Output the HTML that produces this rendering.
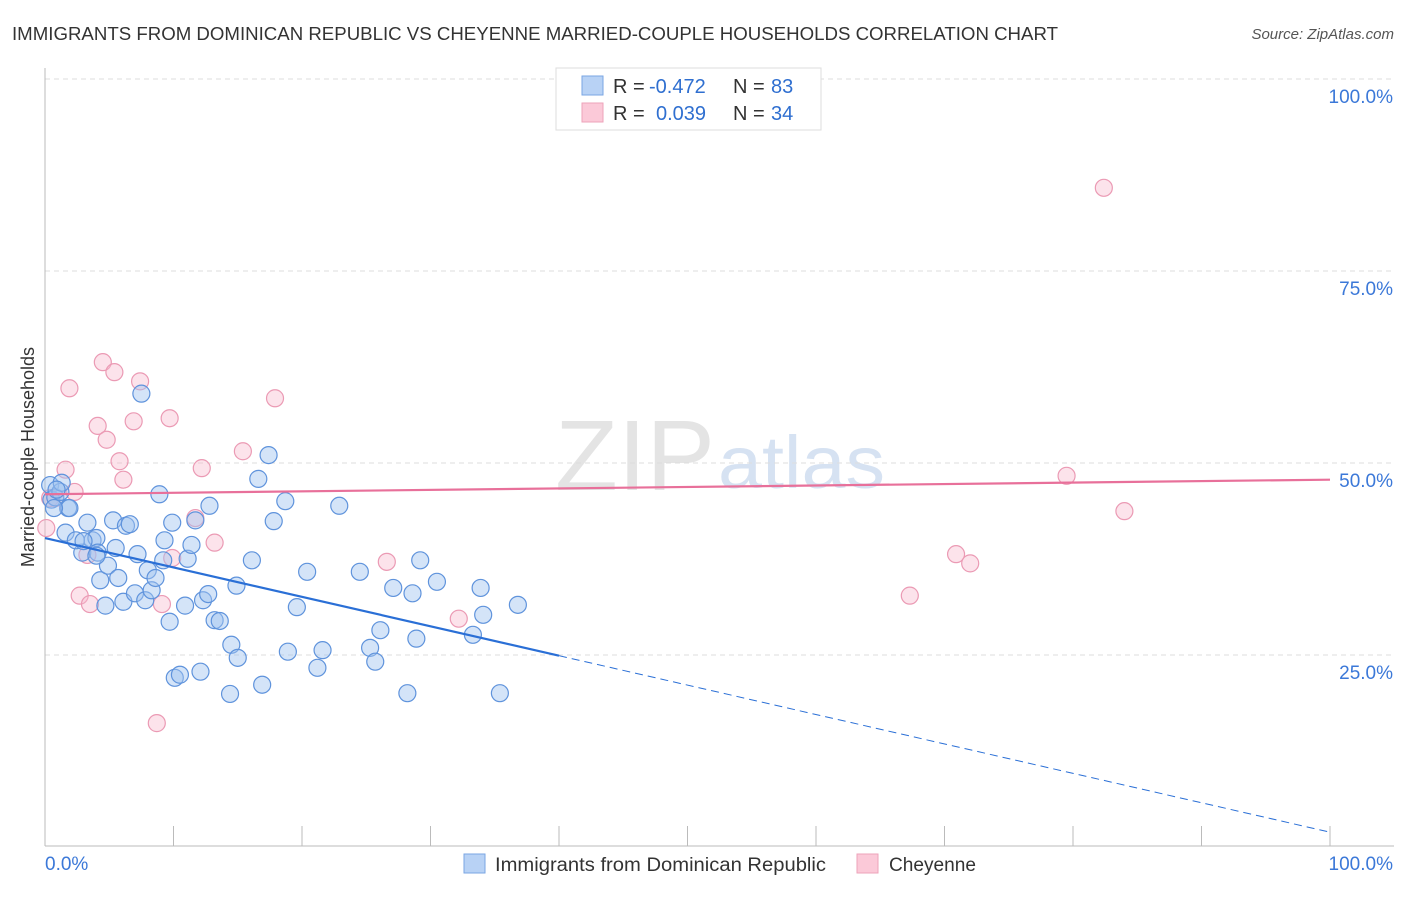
<!DOCTYPE html>
<html><head><meta charset="utf-8"><style>
body{margin:0;background:#fff;font-family:"Liberation Sans",sans-serif;}
svg text{font-family:"Liberation Sans",sans-serif;}
</style></head><body>
<svg id="chart" width="1406" height="892">
<text x="12" y="40" font-size="18" fill="#333" textLength="1046" lengthAdjust="spacingAndGlyphs">IMMIGRANTS FROM DOMINICAN REPUBLIC VS CHEYENNE MARRIED-COUPLE HOUSEHOLDS CORRELATION CHART</text>
<text x="1394" y="39" font-size="15" fill="#555" font-style="italic" text-anchor="end">Source: ZipAtlas.com</text>
<text x="555" y="490" font-size="100" fill="#e4e4e4" textLength="160" lengthAdjust="spacingAndGlyphs" font-family="Liberation Serif">ZIP</text>
<text x="718" y="488" font-size="74" fill="#d6e2f2" textLength="167" lengthAdjust="spacingAndGlyphs">atlas</text>
<g id="grid"></g><g id="pts"></g><g id="lines"></g>
<text transform="translate(34,457) rotate(-90)" font-size="18" fill="#333" text-anchor="middle">Married-couple Households</text>
<g>
<rect x="556" y="68" width="265" height="62" fill="#fff" stroke="#ddd"/>
<rect x="582" y="76" width="21" height="19" fill="#b8d2f5" stroke="#7aa6e3"/>
<rect x="582" y="103" width="21" height="19" fill="#fbc9d8" stroke="#eea3ba"/>
<text x="613" y="93" font-size="20" fill="#333">R = <tspan x="649" fill="#2f6fd0">-0.472</tspan><tspan x="733">N = </tspan><tspan x="771" fill="#2f6fd0">83</tspan></text>
<text x="613" y="120" font-size="20" fill="#333">R = <tspan x="656" fill="#2f6fd0">0.039</tspan><tspan x="733">N = </tspan><tspan x="771" fill="#2f6fd0">34</tspan></text>
</g>
<g>
<rect x="464" y="854" width="21" height="19" fill="#b8d2f5" stroke="#7aa6e3"/>
<text x="495" y="871" font-size="19" fill="#333" textLength="331" lengthAdjust="spacingAndGlyphs">Immigrants from Dominican Republic</text>
<rect x="857" y="854" width="21" height="19" fill="#fbc9d8" stroke="#eea3ba"/>
<text x="889" y="871" font-size="19" fill="#333" textLength="87" lengthAdjust="spacingAndGlyphs">Cheyenne</text>
</g>
</svg>
<script>
const blueX=[0.4,0.5,0.8,1.2,1.3,1.8,1.6,1.9,2.9,3.3,3.7,4.0,4.1,4.3,4.7,4.9,5.3,5.5,5.7,6.1,6.3,6.6,7.0,7.2,7.5,7.8,8.0,8.3,8.6,8.9,9.2,9.3,9.7,9.9,10.1,10.5,10.9,11.1,11.4,11.7,12.1,12.3,12.7,12.8,13.2,13.6,14.4,14.5,14.9,15.0,16.1,16.9,17.4,16.6,17.8,18.7,18.9,19.6,20.4,21.2,21.6,22.9,24.5,25.3,25.7,26.1,27.1,28.2,28.6,28.9,29.2,30.5,33.3,33.9,34.1,35.4,36.8,0.9,0.7,2.4,3.0,4.0];
const blueY=[47.0,45.1,45.4,46.1,47.3,44.0,40.8,44.0,38.2,42.1,39.8,40.1,38.2,34.6,31.3,36.5,42.4,38.8,34.9,31.8,41.7,41.9,32.9,38.0,58.9,32.0,35.9,33.3,34.9,45.8,37.2,39.8,29.2,42.1,21.9,22.3,31.3,37.4,39.2,42.4,22.7,32.0,32.8,44.3,29.4,29.3,19.8,26.2,33.9,24.5,37.2,21.0,50.9,47.8,42.3,44.9,25.3,31.1,35.7,23.2,25.5,44.3,35.7,25.8,24.0,28.1,33.6,19.9,32.9,27.0,37.2,34.4,27.5,33.6,30.1,19.9,31.4,46.4,44.0,39.8,39.7,37.8];
const pinkX=[0.1,0.8,1.6,1.9,2.3,2.7,3.3,3.5,4.1,4.5,4.8,5.4,5.8,6.1,6.9,7.4,8.7,9.1,9.7,9.9,11.7,12.2,13.2,15.4,17.9,26.6,32.2,67.3,70.9,72.0,79.5,82.4,84.0,0.4];
const pinkY=[41.4,45.3,49.0,59.6,46.1,32.6,37.9,31.5,54.7,63.0,52.9,61.7,50.1,47.7,55.3,60.5,16.0,31.5,55.7,37.5,42.7,49.2,39.5,51.4,58.3,37.0,29.6,32.6,38.0,36.8,48.2,85.7,43.6,45.3];
const blueTrend=[40.1,1.8];
const pinkTrend=[45.8,47.7];
const yTicks=[25,50,75,100];
const NS="http://www.w3.org/2000/svg";
const X=v=>45+v*12.85, Y=v=>846-v*7.68;
function mk(t,a,p){const e=document.createElementNS(NS,t);for(const k in a)e.setAttribute(k,a[k]);p.appendChild(e);return e;}
const g=document.getElementById('grid');
yTicks.forEach(t=>{
 const l=mk('line',{x1:45,x2:1394,y1:Y(t)+1,y2:Y(t)+1,stroke:'#ddd','stroke-dasharray':'5,4'},g);
 
 
 const tx=mk('text',{x:1393,y:Y(t)+25,'font-size':19,fill:'#3b78d8','text-anchor':'end'},g);
 tx.textContent=t.toFixed(1)+'%';
 
 
});
mk('line',{x1:45,x2:45,y1:68,y2:846,stroke:'#bbb'},g);
mk('line',{x1:45,x2:1394,y1:846,y2:846,stroke:'#bbb'},g);
for(let i=1;i<=10;i++){mk('line',{x1:X(i*10),x2:X(i*10),y1:826,y2:846,stroke:'#bbb'},g);}
const x0=mk('text',{x:45,y:870,'font-size':19,fill:'#3b78d8'},g);x0.textContent='0.0%';


const x1=mk('text',{x:1393,y:870,'font-size':19,fill:'#3b78d8','text-anchor':'end'},g);x1.textContent='100.0%';


const p=document.getElementById('pts');
pinkX.forEach((v,i)=>{const c=mk('circle',{cx:X(v),cy:Y(pinkY[i]),r:8.5,fill:'rgba(248,185,205,0.4)',stroke:'#eb9ab4','stroke-width':1.2},p);
 
 });
blueX.forEach((v,i)=>{const c=mk('circle',{cx:X(v),cy:Y(blueY[i]),r:8.5,fill:'rgba(160,196,240,0.45)',stroke:'#5f93dc','stroke-width':1.2},p);
 
 });
const L=document.getElementById('lines');
const bAt=x=>blueTrend[0]+(blueTrend[1]-blueTrend[0])*x/100;
const b1=mk('line',{x1:X(0),y1:Y(bAt(0)),x2:X(40),y2:Y(bAt(40)),stroke:'#2a6fd6','stroke-width':2.2},L);


const b2=mk('line',{x1:X(40),y1:Y(bAt(40)),x2:X(100),y2:Y(bAt(100)),stroke:'#2a6fd6','stroke-width':1,'stroke-dasharray':'8,5'},L);


const pl=mk('line',{x1:X(0),y1:Y(pinkTrend[0]),x2:X(100),y2:Y(pinkTrend[1]),stroke:'#e8709a','stroke-width':2.2},L);


</script>
</body></html>
